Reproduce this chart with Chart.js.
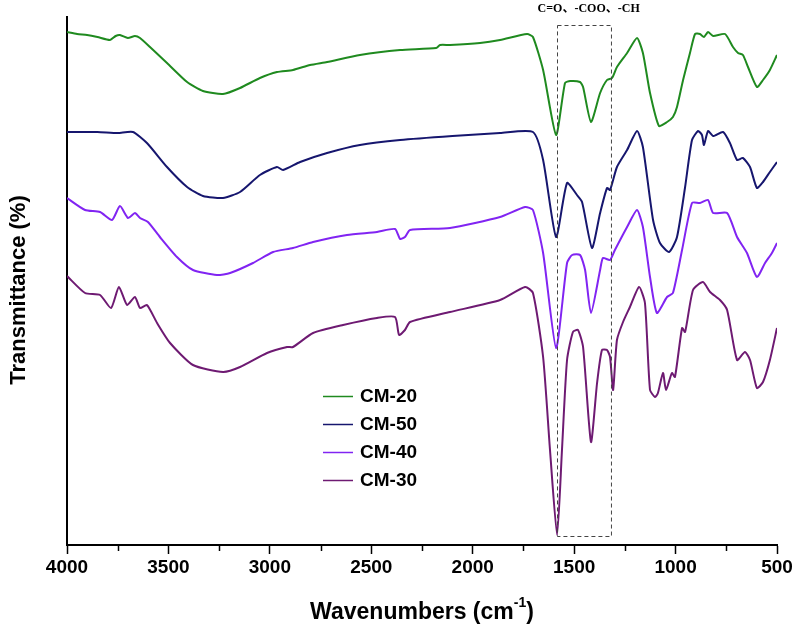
<!DOCTYPE html>
<html><head><meta charset="utf-8">
<script src="https://cdn.jsdelivr.net/npm/chart.js@4/dist/chart.umd.min.js"></script>
<style>html,body{margin:0;padding:0;background:#fff}#wrap{width:795px;height:631px}</style>
</head><body><div id="wrap"><canvas id="c" width="795" height="631"></canvas></div>
<script>
// Series: [wavenumber (cm-1), transmittance (a.u., offset-stacked)]
const cm20 = [[4000,513],[3950,511],[3901,510],[3850,508],[3788,505],[3760,509],[3739,510],[3700,507],[3665,509],[3640,507],[3591,498],[3507,482],[3408,463],[3330,454],[3231,451],[3147,457],[3049,467],[2965,473],[2886,475],[2802,480],[2718,483],[2556,490],[2358,495],[2180,497],[2161,500],[2112,500],[1964,502],[1865,505],[1732,511],[1703,508],[1653,475],[1589,410],[1545,462],[1520,464],[1471,463],[1456,458],[1417,423],[1372,452],[1338,465],[1313,467],[1289,478],[1239,492],[1190,507],[1161,492],[1126,452],[1082,419],[1042,423],[1013,428],[993,438],[963,465],[929,492],[904,511],[880,511],[860,508],[840,513],[815,509],[756,511],[717,498],[692,492],[668,490],[643,478],[599,458],[569,465],[535,475],[500,490]];
const cm50 = [[4000,413],[3850,413],[3750,412],[3675,413],[3606,402],[3507,378],[3408,358],[3330,349],[3231,347],[3147,353],[3049,370],[2965,378],[2935,375],[2851,383],[2718,392],[2556,400],[2358,405],[2100,409],[1865,412],[1703,413],[1653,385],[1589,308],[1535,362],[1486,350],[1461,343],[1412,297],[1372,332],[1338,357],[1323,355],[1289,378],[1239,395],[1190,414],[1161,398],[1111,325],[1077,302],[1032,293],[993,308],[953,358],[919,405],[889,414],[870,410],[860,400],[840,414],[815,409],[766,413],[732,402],[697,385],[668,387],[633,378],[599,357],[569,363],[535,373],[500,383]];
const cm40 = [[4000,347],[3911,335],[3837,333],[3778,325],[3739,339],[3699,327],[3665,332],[3640,327],[3601,323],[3542,308],[3458,288],[3379,275],[3261,270],[3196,272],[3083,282],[2984,293],[2886,297],[2787,303],[2620,310],[2472,313],[2383,316],[2358,306],[2334,308],[2309,315],[2112,317],[1865,328],[1742,338],[1703,335],[1653,292],[1589,197],[1535,282],[1510,290],[1471,290],[1446,275],[1417,232],[1372,275],[1358,287],[1323,285],[1299,295],[1239,318],[1190,335],[1161,318],[1126,268],[1092,232],[1042,248],[1013,252],[968,295],[919,342],[880,342],[840,345],[815,332],[746,332],[697,308],[648,292],[599,268],[559,282],[525,292],[500,302]];
const cm30 = [[4000,269],[3911,252],[3837,250],[3783,237],[3744,258],[3704,240],[3665,248],[3640,237],[3606,240],[3556,222],[3492,202],[3379,180],[3231,173],[3147,178],[3014,192],[2915,198],[2886,198],[2787,212],[2639,220],[2472,227],[2383,228],[2363,210],[2334,215],[2309,223],[2112,233],[1865,245],[1742,258],[1703,252],[1653,188],[1619,95],[1584,10],[1560,95],[1535,185],[1506,213],[1481,215],[1456,198],[1417,103],[1387,162],[1363,195],[1338,195],[1323,188],[1308,155],[1289,205],[1259,223],[1225,238],[1180,258],[1151,242],[1126,155],[1101,148],[1087,152],[1062,172],[1047,155],[1018,172],[1003,168],[968,217],[953,213],[914,255],[865,263],[830,253],[781,245],[746,235],[697,185],[658,193],[633,185],[599,157],[569,163],[535,185],[500,217]];

const seriesNames = ['CM-20','CM-50','CM-40','CM-30'];
const seriesData = [cm20, cm50, cm40, cm30];
const seriesColors = ['#1f8a1f','#16166e','#8124f2','#6e1a72'];
const xTickLabels = [4000,3500,3000,2500,2000,1500,1000,500];
const minorTicks = [3750,3250,2750,2250,1750,1250,750];
const boxRange = {from:1586, to:1320, top:520, bottom:9};
const boxLabel = 'C=O、-COO、-CH';

const plugin = {
  id:'deco',
  afterDraw(chart){
    const ctx = chart.ctx, xs = chart.scales.x, ys = chart.scales.y;
    const base = ys.bottom;
    ctx.save();
    // minor ticks
    ctx.strokeStyle='#000'; ctx.lineWidth=1.5;
    minorTicks.forEach(v=>{const p=Math.round(xs.getPixelForValue(v))+0.5;ctx.beginPath();ctx.moveTo(p,base);ctx.lineTo(p,base+6);ctx.stroke();});
    // tick labels
    ctx.fillStyle='#000'; ctx.font='bold 19px "Liberation Sans", Arial, sans-serif';
    ctx.textAlign='center'; ctx.textBaseline='middle';
    xTickLabels.forEach(v=>ctx.fillText(String(v), xs.getPixelForValue(v), 568));
    // x title with superscript
    const f1='bold 23px "Liberation Sans", Arial, sans-serif', f2='bold 14px "Liberation Sans", Arial, sans-serif';
    ctx.textAlign='left'; ctx.textBaseline='alphabetic';
    const a='Wavenumbers (cm', s='-1', b=')';
    ctx.font=f1; const wa=ctx.measureText(a).width, wb=ctx.measureText(b).width;
    ctx.font=f2; const ws=ctx.measureText(s).width;
    let x0 = 422 - (wa+ws+wb)/2;
    ctx.font=f1; ctx.fillText(a,x0,619);
    ctx.font=f2; ctx.fillText(s,x0+wa,607);
    ctx.font=f1; ctx.fillText(b,x0+wa+ws,619);
    // y title
    ctx.save(); ctx.translate(19,290); ctx.rotate(-Math.PI/2);
    ctx.font='bold 22px "Liberation Sans", Arial, sans-serif'; ctx.textAlign='center'; ctx.textBaseline='middle';
    ctx.fillText('Transmittance (%)',0,0); ctx.restore();
    // dashed box
    const bx1=xs.getPixelForValue(boxRange.from), bx2=xs.getPixelForValue(boxRange.to);
    const by1=ys.getPixelForValue(boxRange.top), by2=ys.getPixelForValue(boxRange.bottom);
    ctx.setLineDash([4,3]); ctx.strokeStyle='#444'; ctx.lineWidth=1;
    ctx.strokeRect(Math.round(bx1)+0.5,Math.round(by1)+0.5,bx2-bx1,by2-by1);
    ctx.setLineDash([]);
    // box label
    ctx.font='bold 12px "Liberation Serif", "Noto Sans CJK SC", serif'; ctx.textAlign='center'; ctx.textBaseline='middle';
    ctx.fillStyle='#000'; ctx.fillText(boxLabel,(bx1+bx2)/2+5,9);
    // legend
    ctx.font='bold 19px "Liberation Sans", Arial, sans-serif'; ctx.textAlign='left';
    seriesNames.forEach((n,i)=>{const y=396+i*28;ctx.strokeStyle=seriesColors[i];ctx.lineWidth=1.5;ctx.beginPath();ctx.moveTo(323,y+0.5);ctx.lineTo(353,y+0.5);ctx.stroke();ctx.fillStyle='#000';ctx.fillText(n,360,y+1);});
    ctx.restore();
  }
};

new Chart(document.getElementById('c'),{
  type:'line',
  data:{datasets: seriesData.map((d,i)=>({label:seriesNames[i],data:d.map(p=>({x:p[0],y:p[1]})),borderColor:seriesColors[i],borderWidth:2,pointRadius:0,tension:0.2,fill:false}))},
  options:{
    responsive:false, animation:false, maintainAspectRatio:false,
    layout:{padding:{left:0,right:18,top:17,bottom:0}},
    plugins:{legend:{display:false},tooltip:{enabled:false}},
    scales:{
      x:{type:'linear',reverse:true,min:500,max:4000,
        ticks:{stepSize:500,display:false},
        grid:{drawOnChartArea:false,drawTicks:true,tickLength:9,tickColor:'#000',tickWidth:1.5},
        border:{display:true,color:'#000',width:2},
        afterFit(s){s.height=86;}},
      y:{type:'linear',min:0,max:528,
        ticks:{display:false},
        grid:{display:false,drawTicks:false},
        border:{display:true,color:'#000',width:2},
        afterFit(s){s.width=67;}}
    }
  },
  plugins:[plugin]
});
</script></body></html>
